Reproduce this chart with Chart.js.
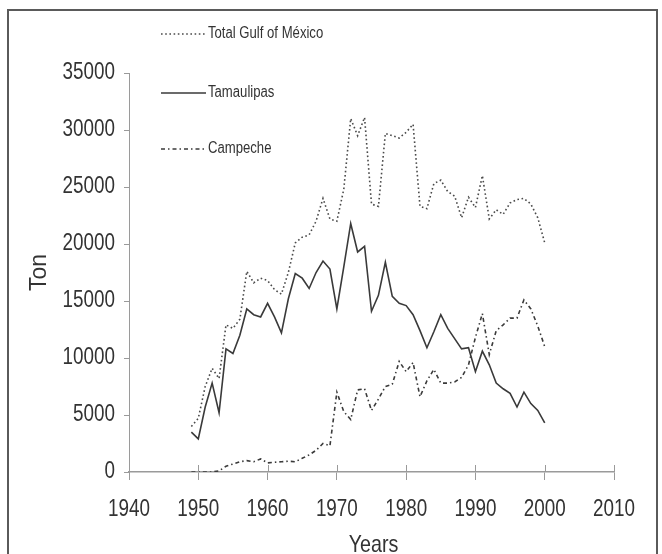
<!DOCTYPE html>
<html>
<head>
<meta charset="utf-8">
<script src="https://cdn.jsdelivr.net/npm/chart.js@4/dist/chart.umd.min.js"></script>
<style>
    html, body { margin: 0; padding: 0; background: #fff; }
    #wrap { width: 662px; height: 554px; }
</style>
</head>
<body>
<div id="wrap"><canvas id="catchChart" width="662" height="554"></canvas></div>
<script>
// ===== Data =====
const years = [
    1949, 1950, 1951, 1952, 1953, 1954, 1955, 1956, 1957, 1958,
    1959, 1960, 1961, 1962, 1963, 1964, 1965, 1966, 1967, 1968,
    1969, 1970, 1971, 1972, 1973, 1974, 1975, 1976, 1977, 1978,
    1979, 1980, 1981, 1982, 1983, 1984, 1985, 1986, 1987, 1988,
    1989, 1990, 1991, 1992, 1993, 1994, 1995, 1996, 1997, 1998,
    1999, 2000
];
const totalGulf = [
    4000, 4700, 7500, 9100, 8200, 12900, 12600, 13400, 17600, 16600,
    17000, 16800, 16000, 15600, 17500, 20100, 20600, 20800, 22000, 24000,
    22200, 22000, 24800, 31000, 29500, 31100, 23500, 23300, 29700, 29500,
    29300, 29800, 30500, 23300, 23100, 25300, 25600, 24600, 24200, 22300,
    24100, 23200, 26000, 22200, 23000, 22600, 23600, 23900, 24000, 23500,
    22300, 20100
];
const tamaulipas = [
    3500, 2900, 5700, 7800, 5200, 10800, 10400, 12000, 14300, 13800,
    13600, 14800, 13600, 12200, 15200, 17400, 17000, 16100, 17500, 18500,
    17800, 14300, 18000, 21800, 19300, 19800, 14100, 15500, 18400, 15400,
    14800, 14600, 13800, 12400, 10900, 12300, 13800, 12600, 11700, 10800,
    10900, 8800, 10600, 9400, 7800, 7300, 6900, 5700, 7000, 6000,
    5400, 4300
];
const campeche = [
    0, 0, 0, 0, 100, 500, 700, 900, 1000, 900,
    1150, 800, 850, 900, 950, 900, 1200, 1500, 1900, 2500,
    2300, 7000, 5300, 4600, 7200, 7300, 5400, 6400, 7500, 7700,
    9700, 8800, 9600, 6600, 8000, 9000, 7800, 7800, 7900, 8300,
    9400, 11800, 13900, 10300, 12400, 12900, 13500, 13500, 15100, 14300,
    12800, 11000
];
const seriesLabels = ['Total Gulf of México', 'Tamaulipas', 'Campeche'];
const yTicks = [0, 5000, 10000, 15000, 20000, 25000, 30000, 35000];
const xTicks = [1940, 1950, 1960, 1970, 1980, 1990, 2000, 2010];

// ===== Styles =====
const sans = '"Liberation Sans", Arial, sans-serif';
const lineColor = '#3a3a3a';
const axisColor = '#9a9a9a';
const textColor = '#333';

function toPoints(values) {
    return years.map((yr, i) => ({ x: yr, y: values[i] }));
}

// no narrow font installed, so squeeze Liberation Sans like Arial Narrow
function narrowText(ctx, text, x, y, size, align) {
    ctx.save();
    ctx.translate(x, y);
    ctx.scale(0.82, 1);
    ctx.font = size + 'px ' + sans;
    ctx.fillStyle = textColor;
    ctx.textAlign = align;
    ctx.textBaseline = 'middle';
    ctx.fillText(text, 0, 0);
    ctx.restore();
}

// frame around the figure
const framePlugin = {
    id: 'frame',
    beforeDraw(chart) {
        const ctx = chart.ctx;
        ctx.save();
        ctx.fillStyle = '#fff';
        ctx.fillRect(0, 0, chart.width, chart.height);
        ctx.strokeStyle = '#5a5a5a';
        ctx.lineWidth = 2;
        ctx.strokeRect(8, 10, 649, 600);
        ctx.restore();
    }
};

// x ticks cross the axis line + narrow tick labels
const axisText = {
    id: 'axisText',
    afterDraw(chart) {
        const sx = chart.scales.x;
        const sy = chart.scales.y;
        const ctx = chart.ctx;
        ctx.save();
        ctx.strokeStyle = axisColor;
        ctx.lineWidth = 1;
        sx.ticks.forEach(t => {
            if (t.value === xTicks[0]) return;
            const px = Math.round(sx.getPixelForValue(t.value)) + 0.5;
            ctx.beginPath();
            ctx.moveTo(px, sx.top - 7);
            ctx.lineTo(px, sx.top);
            ctx.stroke();
        });
        ctx.restore();

        sx.ticks.forEach(t => {
            narrowText(ctx, String(t.value), sx.getPixelForValue(t.value), sx.top + 38, 23, 'center');
        });
        sy.ticks.forEach(t => {
            narrowText(ctx, String(t.value), sy.right - 14, sy.getPixelForValue(t.value), 23, 'right');
        });
        const area = chart.chartArea;
        narrowText(ctx, 'Years', (area.left + area.right) / 2 + 2, 545, 24, 'center');
    }
};

// legend drawn at the upper left like the original
const legendYs = [34, 93, 149];
const sideLegend = {
    id: 'sideLegend',
    afterDraw(chart) {
        const ctx = chart.ctx;
        chart.data.datasets.forEach((ds, i) => {
            const y = legendYs[i];
            ctx.save();
            ctx.strokeStyle = ds.borderColor;
            ctx.lineWidth = ds.borderWidth;
            ctx.setLineDash(ds.borderDash || []);
            ctx.beginPath();
            ctx.moveTo(161, y);
            ctx.lineTo(206, y);
            ctx.stroke();
            ctx.restore();
            narrowText(ctx, ds.label, 208, y, 16, 'left');
        });
    }
};

// ===== Chart =====
const ctx = document.getElementById('catchChart');
new Chart(ctx, {
    type: 'line',
    data: {
        datasets: [
            {
                label: seriesLabels[0],
                data: toPoints(totalGulf),
                borderColor: '#4a4a4a',
                borderWidth: 1.6,
                borderDash: [1.6, 2.6],
                pointRadius: 0,
                tension: 0
            },
            {
                label: seriesLabels[1],
                data: toPoints(tamaulipas),
                borderColor: lineColor,
                borderWidth: 1.6,
                pointRadius: 0,
                tension: 0
            },
            {
                label: seriesLabels[2],
                data: toPoints(campeche),
                borderColor: lineColor,
                borderWidth: 1.6,
                borderDash: [4, 3, 1.5, 3],
                pointRadius: 0,
                tension: 0
            }
        ]
    },
    options: {
        responsive: false,
        animation: false,
        layout: {
            padding: { left: 0, right: 48, top: 73, bottom: 0 }
        },
        plugins: {
            legend: { display: false },
            tooltip: { enabled: false }
        },
        scales: {
            x: {
                type: 'linear',
                min: xTicks[0],
                max: xTicks[xTicks.length - 1],
                afterBuildTicks: scale => {
                    scale.ticks = xTicks.map(v => ({ value: v }));
                },
                afterFit: scale => { scale.height = 82; },
                grid: {
                    display: true,
                    drawOnChartArea: false,
                    drawTicks: true,
                    tickLength: 8,
                    color: axisColor
                },
                border: { display: true, color: axisColor, width: 1.5 },
                ticks: { display: false }
            },
            y: {
                min: yTicks[0],
                max: yTicks[yTicks.length - 1],
                afterBuildTicks: scale => {
                    scale.ticks = yTicks.map(v => ({ value: v }));
                },
                afterFit: scale => { scale.width = 129; },
                grid: {
                    display: true,
                    drawOnChartArea: false,
                    drawTicks: true,
                    tickLength: 5,
                    color: axisColor
                },
                border: { display: true, color: axisColor, width: 1 },
                ticks: { display: false },
                title: {
                    display: true,
                    text: 'Ton',
                    color: textColor,
                    font: { family: sans, size: 23, lineHeight: 1.2 },
                    padding: { top: 26, bottom: 0 }
                }
            }
        }
    },
    plugins: [framePlugin, axisText, sideLegend]
});
</script>
</body>
</html>
